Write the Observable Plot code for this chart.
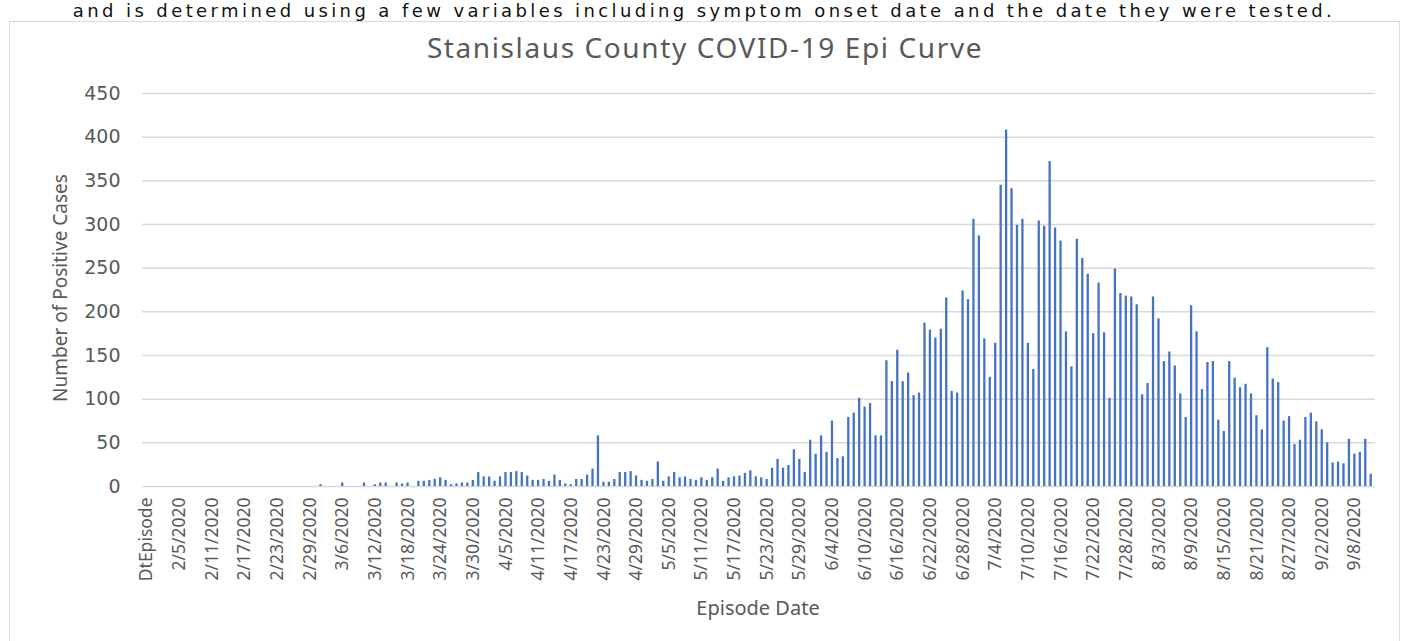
<!DOCTYPE html>
<html>
<head>
<meta charset="utf-8">
<script src="https://cdn.jsdelivr.net/npm/d3@7"></script>
<script src="https://cdn.jsdelivr.net/npm/@observablehq/plot@0.6"></script>
<style>
  html, body { margin: 0; padding: 0; background: #fff; }
  #wrap { position: relative; width: 1408px; height: 641px; overflow: hidden; background: #fff; }
  #toptext { position: absolute; left: 0; width: 1408px; top: 1px; text-align: center;
    font-family: "DejaVu Sans", sans-serif; font-size: 18px; line-height: 20px; letter-spacing: 3.4px; color: #111; white-space: nowrap; }
  #box { position: absolute; left: 9px; top: 21px; width: 1391px; height: 640px; border: 1px solid #d9d9d9; box-sizing: border-box; }
  #title { position: absolute; left: 0; width: 1410px; top: 28px; text-align: center;
    font-family: "Noto Sans", sans-serif; font-size: 28px; letter-spacing: 1.6px; color: #595959; white-space: nowrap; }
  #ytitle { position: absolute; left: 60px; top: 288px; transform: translate(-50%, -50%) rotate(-90deg);
    font-family: "Noto Sans", sans-serif; font-size: 19px; color: #595959; white-space: nowrap; }
  #xtitle { position: absolute; left: 758px; top: 607px; transform: translate(-50%, -50%);
    font-family: "Noto Sans", sans-serif; font-size: 20px; color: #595959; white-space: nowrap; }
  #chart { position: absolute; left: 0; top: 0; }
</style>
</head>
<body>
<div id="wrap">
  <div id="toptext">and is determined using a few variables including symptom onset date and the date they were tested.</div>
  <div id="box"></div>
  <div id="chart"></div>
  <div id="title">Stanislaus County COVID-19 Epi Curve</div>
  <div id="ytitle">Number of Positive Cases</div>
  <div id="xtitle">Episode Date</div>
</div>
<script>
// Categories: header row "DtEpisode" followed by daily episode dates 1/31/2020 – 9/11/2020
const firstLabel = "DtEpisode";
const startDate = new Date(Date.UTC(2020, 0, 31));
const endDate = new Date(Date.UTC(2020, 8, 12));
const dates = d3.utcDay.range(startDate, endDate)
  .map(d => `${d.getUTCMonth() + 1}/${d.getUTCDate()}/${d.getUTCFullYear()}`);
const categories = [firstLabel, ...dates];

// Number of positive cases per category
const cases = [
  0,0,0,0,0,0,0,0,0,0, 0,0,0,0,0,0,0,0,0,0,
  0,0,0,0,0,0,0,0,0,0, 0,0,2,0,0,0,4,0,0,0,
  4,0,2,4,4,0,4,3,4,0, 6,6,7,8,10,7,2,3,4,4,
  7,16,11,11,6,11,16,16,17,16, 12,7,7,8,6,13,7,3,2,8,
  8,13,20,58,5,5,8,16,16,17, 12,7,6,8,28,6,11,16,10,11,
  8,7,10,7,10,20,6,10,11,12, 15,18,11,10,8,21,31,21,24,42,
  31,16,53,37,58,39,75,32,34,79, 84,101,91,95,58,58,144,120,156,120,
  130,104,107,187,179,170,180,216,109,107, 224,214,306,287,169,125,164,345,408,341,
  299,306,164,134,304,298,372,296,281,177, 137,283,261,243,175,233,176,101,249,221,
  218,217,208,105,118,217,192,143,154,138, 106,79,207,177,111,142,143,76,63,143,
  124,113,117,106,81,65,159,123,119,75, 80,48,53,79,84,74,65,50,27,28,
  26,54,37,39,54,14
];

// Axis ticks
const yTicks = [0, 50, 100, 150, 200, 250, 300, 350, 400, 450];
const xTickLabels = categories.filter((d, i) => i % 6 === 0);

const data = categories.map((c, i) => ({ date: c, cases: cases[i] ?? 0 }));

const chart = Plot.plot({
  width: 1408,
  height: 641,
  marginLeft: 142,
  marginRight: 33,
  marginTop: 93,
  marginBottom: 155,
  style: { background: "transparent", color: "#595959", overflow: "visible" },
  x: { type: "band", domain: categories, padding: 0.58, label: null },
  y: { domain: [0, 450], label: null },
  marks: [
    Plot.ruleY(yTicks, { stroke: "#d9d9d9", strokeWidth: 1.5 }),
    Plot.barY(data, { x: "date", y: "cases", fill: "#4472C4" }),
    Plot.axisY({ ticks: yTicks, tickSize: 0, tickPadding: 22, fontSize: 19,
      fontFamily: "DejaVu Sans, sans-serif", label: null }),
    Plot.axisX({ ticks: xTickLabels, tickRotate: -90, tickSize: 0, tickPadding: 11,
      fontSize: 17.5, fontFamily: "Noto Sans, sans-serif", label: null })
  ]
});
document.getElementById("chart").appendChild(chart);
</script>
</body>
</html>
